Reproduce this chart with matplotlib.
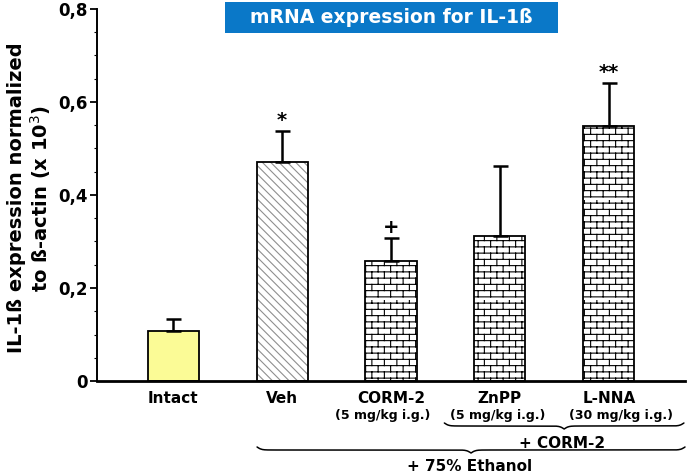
import warnings
warnings.filterwarnings('ignore')
import numpy as np
import matplotlib
matplotlib.use('Agg')
import matplotlib.pyplot as plt
from matplotlib import hatch as mhatch
from matplotlib.path import Path
from matplotlib.patches import Rectangle

# ---------------- data ----------------
categories = ['Intact', 'Veh', 'CORM-2', 'ZnPP', 'L-NNA']
doses = ['', '', '(5 mg/kg i.g.)', '(5 mg/kg i.g.)', '(30 mg/kg i.g.)']
means = [0.107, 0.471, 0.258, 0.312, 0.548]
sems = [0.026, 0.067, 0.049, 0.150, 0.093]
signif = ['', '*', '+', '', '**']
yticks = [0.0, 0.2, 0.4, 0.6, 0.8]
ytick_labels = ['0', '0,2', '0,4', '0,6', '0,8']
group_corm = '+ CORM-2'
group_eth = '+ 75% Ethanol'
title = 'mRNA expression for IL-1ß'
ylabel = 'IL-1ß expression normalized\nto ß-actin (x 10$^3$)'


# ---------------- custom brick hatch ----------------
class BrickHatch(mhatch.HatchPatternBase):
    def __init__(self, hatch, density):
        self.on = hatch.count('B') > 0
        self.rows = 16
        self.cols = 8
        self.num_vertices = (self.rows * 2 + self.rows * self.cols * 2) if self.on else 0

    def set_vertices_and_codes(self, vertices, codes):
        verts = []
        for i in range(self.rows):
            y0 = (i + 0.5) / self.rows
            verts += [(0.0, y0), (1.0, y0)]
        for i in range(self.rows):
            y0 = (i + 0.5) / self.rows
            y1 = (i + 1.5) / self.rows
            off = 0.5 if i % 2 else 0.0
            for j in range(self.cols):
                xx = (j + off + 0.25) / self.cols
                verts += [(xx, y0), (xx, y1)]
        vertices[:] = np.array(verts)
        codes[0::2] = Path.MOVETO
        codes[1::2] = Path.LINETO


mhatch._hatch_types.append(BrickHatch)

plt.rcParams['font.family'] = ['DejaVu Sans']
plt.rcParams['hatch.linewidth'] = 0.8

fig = plt.figure(figsize=(6.88, 4.73), dpi=100)
ax = fig.add_axes([97 / 688, 1 - 381 / 473, 588 / 688, 372 / 473])

x = np.arange(len(categories))
width = 0.47
facecolors = ['#fbfb96', 'white', 'white', 'white', 'white']
hatches = ['', '\\' * 4, 'B', 'B', 'B']
hatchcolors = ['black', '#8f8f8f', 'black', 'black', 'black']

fill = ax.bar(x, means, width=width, color=facecolors, edgecolor=hatchcolors,
              linewidth=0, zorder=2)
for p, h in zip(fill, hatches):
    p.set_hatch(h)
ax.bar(x, means, width=width, fill=False, edgecolor='black', linewidth=1.3, zorder=3)

ax.errorbar(x, means, yerr=[np.zeros(len(means)), sems], fmt='none', ecolor='black',
            elinewidth=1.8, capsize=5.4, capthick=1.8, zorder=4)

for xi, m, s, lab in zip(x, means, sems, signif):
    if lab:
        ax.text(xi, m + s + 0.002, lab, ha='center', va='bottom', fontsize=14,
                fontweight='bold')

ax.set_xlim(-0.70, 4.70)
ax.set_ylim(0, 0.8)
ax.set_yticks(yticks)
ax.set_yticklabels(ytick_labels, fontsize=12, fontweight='bold')
ax.set_yticks(np.arange(0, 0.8001, 0.05), minor=True)
ax.tick_params(axis='y', which='major', length=5, width=1.3, direction='out', pad=2)
ax.tick_params(axis='y', which='minor', length=2.5, width=0.8, direction='out')
ax.set_xticks(x)
ax.set_xticklabels(categories, fontsize=11, fontweight='bold')
ax.tick_params(axis='x', length=0, pad=7)

for sp in ['top', 'right']:
    ax.spines[sp].set_visible(False)
ax.spines['left'].set_linewidth(1.4)
ax.spines['bottom'].set_linewidth(2.0)

# dose sub-labels
trans = ax.get_xaxis_transform()
dose_offsets = [0, 0, -0.08, -0.02, 0.11]
for xi, d, o in zip(x, doses, dose_offsets):
    if d:
        ax.text(xi + o, (381 - 415) / 372, d, transform=trans, ha='center',
                va='center', fontsize=9, fontweight='bold', clip_on=False)


def brace(x0, x1, ytop_px, h_px):
    # x in data units, y in figure pixels from the top
    px0 = 173.5 + x0 * 109
    px1 = 173.5 + x1 * 109
    n = 400
    half = (px1 - px0) / 2
    t = np.linspace(0, half, n // 2)
    beta = 0.45
    yh = 1 / (1 + np.exp(-beta * (t - t[0]))) + 1 / (1 + np.exp(-beta * (t - t[-1])))
    yy = np.concatenate([yh, yh[-2::-1]])
    xs = np.linspace(px0, px1, len(yy))
    ypx = ytop_px + h_px * (yy - 0.5)
    ax.plot((xs - 173.5) / 109, (381 - ypx) / 372, transform=trans, color='black',
            lw=1.1, clip_on=False, solid_capstyle='round')


brace(2.49, 4.69, 423, 6)
brace(0.77, 4.70, 447, 6)
ax.text(3.575, (381 - 443) / 372, group_corm, transform=trans, ha='center', va='center',
        fontsize=11, fontweight='bold', clip_on=False)
ax.text(2.72, (381 - 466) / 372, group_eth, transform=trans, ha='center', va='center',
        fontsize=11, fontweight='bold', clip_on=False)

# y label
fig.text(30 / 688, 1 - 198 / 473, ylabel, rotation=90, ha='center', va='center',
         multialignment='center', fontsize=14, fontweight='bold', linespacing=1.1)

# title box
fig.patches.append(Rectangle((225 / 688, 1 - 33 / 473), 333 / 688, 31 / 473,
                             transform=fig.transFigure, facecolor='#0a78c8',
                             edgecolor='none', zorder=0))
fig.text(391.5 / 688, 1 - 17.5 / 473, title, ha='center', va='center', color='white',
         fontsize=13.5, fontweight='bold')

fig.savefig('out.png', dpi=100)
